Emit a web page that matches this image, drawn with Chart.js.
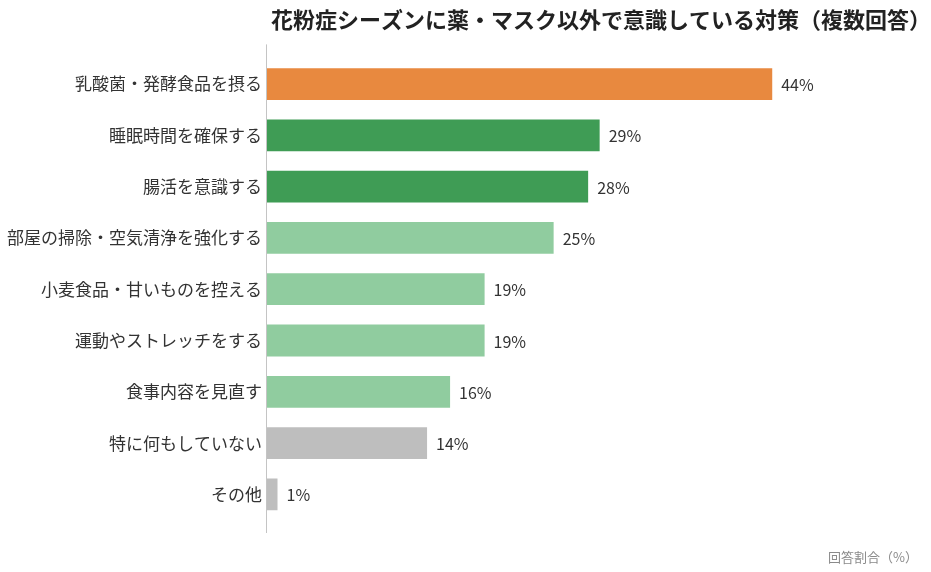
<!DOCTYPE html>
<html>
<head>
<meta charset="utf-8">
<script src="https://cdn.jsdelivr.net/npm/chart.js@4/dist/chart.umd.min.js"></script>
<style>
  html, body { margin: 0; padding: 0; background: #fff; }
  #wrap { width: 931px; height: 572px; }
</style>
</head>
<body>
<div id="wrap"><canvas id="mycanvas"></canvas></div>
<script>
// data
var categories = [
  '乳酸菌・発酵食品を摂る',
  '睡眠時間を確保する',
  '腸活を意識する',
  '部屋の掃除・空気清浄を強化する',
  '小麦食品・甘いものを控える',
  '運動やストレッチをする',
  '食事内容を見直す',
  '特に何もしていない',
  'その他'
];
var shares = [44, 29, 28, 25, 19, 19, 16, 14, 1];
var barColors = [
  '#E8893F',
  '#3F9C55', '#3F9C55',
  '#90CC9F', '#90CC9F', '#90CC9F', '#90CC9F',
  '#BEBEBE', '#BEBEBE'
];
var chartTitle = '花粉症シーズンに薬・マスク以外で意識している対策（複数回答）';
var unitLabel = '回答割合（%）';

var JP = '"Noto Sans CJK JP", "Noto Sans", sans-serif';

// value labels, the long axis line and the unit note
var extras = {
  id: 'extras',
  afterDatasetsDraw: function (chart) {
    var ctx = chart.ctx;
    var area = chart.chartArea;
    var meta = chart.getDatasetMeta(0);
    ctx.save();
    ctx.font = '16px ' + JP;
    ctx.fillStyle = '#333';
    ctx.textAlign = 'left';
    ctx.textBaseline = 'middle';
    meta.data.forEach(function (bar, i) {
      ctx.fillText(shares[i] + '%', bar.x + 9, bar.y + 1);
    });

    var x0 = chart.scales.x.getPixelForValue(0);
    ctx.strokeStyle = '#c4c4c4';
    ctx.lineWidth = 1;
    ctx.beginPath();
    ctx.moveTo(Math.round(x0) + 0.5, area.top - 14);
    ctx.lineTo(Math.round(x0) + 0.5, area.bottom + 13);
    ctx.stroke();

    ctx.font = '13px ' + JP;
    ctx.fillStyle = '#8a8a8a';
    ctx.textAlign = 'right';
    ctx.fillText(unitLabel, 918, 557);
    ctx.restore();
  }
};

var chartdata = {
  labels: categories,
  datasets: [
    {
      label: '回答割合',
      backgroundColor: barColors,
      borderWidth: 0,
      data: shares,
      categoryPercentage: 1.0,
      barPercentage: 0.62
    }
  ]
};

var graphTarget = document.getElementById('mycanvas');

var barGraph = new Chart(graphTarget, {
  type: 'bar',
  data: chartdata,
  plugins: [extras],
  options: {
    indexAxis: 'y',
    responsive: true,
    maintainAspectRatio: false,
    animation: false,
    layout: { padding: { left: 0, right: 0, top: 0, bottom: 52 } },
    plugins: {
      legend: { display: false },
      tooltip: { enabled: false },
      title: {
        display: true,
        text: chartTitle,
        align: 'end',
        color: '#222',
        font: { family: JP, size: 22, weight: 'bold' },
        padding: { top: 6, bottom: 26 }
      }
    },
    scales: {
      x: {
        display: false,
        min: 0,
        max: 57.8
      },
      y: {
        grid: { display: false, drawTicks: false },
        border: { display: false },
        ticks: {
          color: '#333',
          padding: 4,
          font: { family: JP, size: 17 }
        },
        afterFit: function (scale) { scale.width = 266; }
      }
    }
  }
});
</script>
</body>
</html>
